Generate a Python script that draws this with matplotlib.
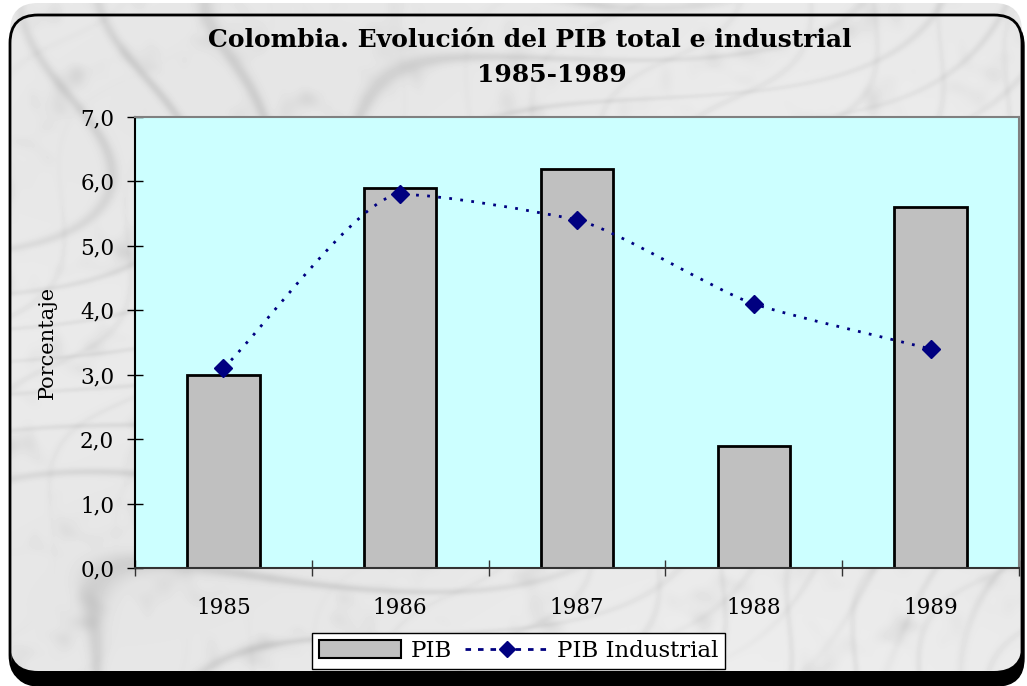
import numpy as np
import matplotlib
matplotlib.use('Agg')
import matplotlib.pyplot as plt
from matplotlib.patches import FancyBboxPatch, Patch, PathPatch
from matplotlib.lines import Line2D
from matplotlib.path import Path
from matplotlib.ticker import FuncFormatter, FixedLocator

# datos
anios = ['1985', '1986', '1987', '1988', '1989']
pib = [3.0, 5.9, 6.2, 1.9, 5.6]
pib_industrial = [3.1, 5.8, 5.4, 4.1, 3.4]

titulo_1 = 'Colombia. Evolución del PIB total e industrial'
titulo_2 = '1985-1989'
etiqueta_y = 'Porcentaje'

W, H = 1027, 686
fig = plt.figure(figsize=(W / 100, H / 100), dpi=100)
fig.patch.set_facecolor('white')

# fondo tipo marmol con borde redondeado
bg = fig.add_axes([0, 0, 1, 1], zorder=-10)
bg.set_xlim(0, W)
bg.set_ylim(H, 0)
bg.axis('off')

yy, xx = np.mgrid[0:H, 0:W].astype(float)
warp = 1.8 * np.sin(xx * 0.006 - yy * 0.009) + 1.1 * np.cos(yy * 0.013 + xx * 0.004)
t = xx * 0.010 + yy * 0.016 + warp
vena1 = np.exp(-np.sin(t * 2.1) ** 2 / 0.05)
t2 = xx * 0.021 + yy * 0.012 + 0.8 * np.sin(yy * 0.019 - xx * 0.011)
vena2 = np.exp(-np.sin(t2 * 1.7) ** 2 / 0.03)
suave = 0.5 + 0.5 * np.sin(xx * 0.004 + yy * 0.007) * np.cos(yy * 0.006 - xx * 0.002)
# manchas (turbulencia de senos, determinista)
manchas = np.zeros_like(xx)
for k, (a, b, fase) in enumerate([(0.031, 0.047, 0.3), (0.053, -0.029, 1.7), (0.077, 0.061, 2.9),
                                  (-0.097, 0.083, 4.1), (0.131, 0.113, 0.9), (0.173, -0.149, 5.3)]):
    manchas += np.sin(xx * a + yy * b + fase + 1.5 * np.sin(yy * b * 0.5 - xx * a * 0.3)) / (k + 1) ** 0.7
manchas = manchas / np.abs(manchas).max()
marmol = 0.93 - 0.09 * vena1 * suave - 0.05 * vena2 * (1 - suave) - 0.03 * suave \
    - 0.08 * np.clip(manchas, 0, None) ** 2
marmol = np.clip(marmol, 0.7, 0.97)

sombra = FancyBboxPatch((12, 18), 1012, 668, boxstyle='round,pad=0,rounding_size=28',
                        facecolor='black', edgecolor='black', lw=1)
bg.add_patch(sombra)
caja = FancyBboxPatch((10, 15), 1012, 668, boxstyle='round,pad=0,rounding_size=28',
                      facecolor='none', edgecolor='black', lw=2)
im = bg.imshow(marmol, cmap='gray', vmin=0, vmax=1, extent=(0, W, H, 0), zorder=1)
im.set_clip_path(caja)
caja.set_zorder(2)
bg.add_patch(caja)

# grafico
ax = fig.add_axes([135 / W, 1 - 568 / H, 884 / W, 451 / H])
ax.set_facecolor('#CCFFFF')
x = np.arange(len(anios))

ax.bar(x, pib, width=0.41, color='#C0C0C0', edgecolor='black', linewidth=2, zorder=2)

# linea suavizada: bezier con tangentes monotonas calculadas de los datos
px = np.array(x, dtype=float)
py = np.array(pib_industrial, dtype=float)
h = np.diff(px)
d = np.diff(py) / h
m = np.zeros_like(py)
m[0], m[-1] = d[0], d[-1]
for i in range(1, len(py) - 1):
    if d[i - 1] * d[i] > 0:
        m[i] = 2 / (1 / d[i - 1] + 1 / d[i])
f = 0.22
verts = [(px[0], py[0])]
codes = [Path.MOVETO]
for i in range(len(px) - 1):
    c1 = (px[i] + h[i] * f, py[i] + m[i] * h[i] * f)
    c2 = (px[i + 1] - h[i] * f, py[i + 1] - m[i + 1] * h[i] * f)
    verts += [c1, c2, (px[i + 1], py[i + 1])]
    codes += [Path.CURVE4] * 3
curva = PathPatch(Path(verts, codes), facecolor='none', edgecolor='#000080',
                  lw=2, linestyle=(0, (1, 3)), zorder=3)
ax.add_patch(curva)
ax.plot(px, py, linestyle='none', marker='D', color='#000080', markersize=9, zorder=4)

ax.set_xlim(-0.5, len(anios) - 0.5)
ax.set_ylim(0, 7)
ax.yaxis.set_major_locator(FixedLocator(np.arange(0, 8, 1)))
ax.yaxis.set_major_formatter(FuncFormatter(lambda v, p: f'{v:.1f}'.replace('.', ',')))
ax.tick_params(axis='y', direction='inout', length=12, width=1, labelsize=15.5, pad=9, colors='black')

ax.set_xticks(x)
ax.set_xticklabels(anios)
ax.set_xticks(np.arange(-0.5, len(anios), 1), minor=True)
ax.tick_params(axis='x', which='major', length=0, labelsize=15.5, pad=21)
ax.tick_params(axis='x', which='minor', direction='inout', length=12, width=1, color='#333333')

for lbl in ax.get_xticklabels() + ax.get_yticklabels():
    lbl.set_fontfamily('DejaVu Serif')

ax.spines['left'].set_color('black')
ax.spines['bottom'].set_color('#333333')
ax.spines['top'].set_color('#808080')
ax.spines['right'].set_color('#808080')
for s in ax.spines.values():
    s.set_linewidth(1.5)

ax.set_ylabel(etiqueta_y, fontsize=15, fontfamily='DejaVu Serif', labelpad=17)

fig.text(530 / W, 1 - 40 / H, titulo_1, ha='center', va='center', fontsize=18,
         fontweight='bold', fontfamily='DejaVu Serif')
fig.text(552 / W, 1 - 75 / H, titulo_2, ha='center', va='center', fontsize=18,
         fontweight='bold', fontfamily='DejaVu Serif')

manejadores = [Patch(facecolor='#C0C0C0', edgecolor='black', linewidth=1.5),
               Line2D([0], [0], color='#000080', lw=2, linestyle=(0, (2, 2.5)),
                      marker='D', markersize=8)]
leg = fig.legend(manejadores, ['PIB', 'PIB Industrial'], loc='center',
                 bbox_to_anchor=(518.5 / W, 1 - 651 / H), ncol=2, fancybox=False,
                 framealpha=1, edgecolor='black', handlelength=3.6, handleheight=0.8,
                 columnspacing=0.6, handletextpad=0.4, borderpad=0.3,
                 prop={'family': 'DejaVu Serif', 'size': 16.5})
leg.get_frame().set_linewidth(1)

fig.savefig('out.png', dpi=100)
